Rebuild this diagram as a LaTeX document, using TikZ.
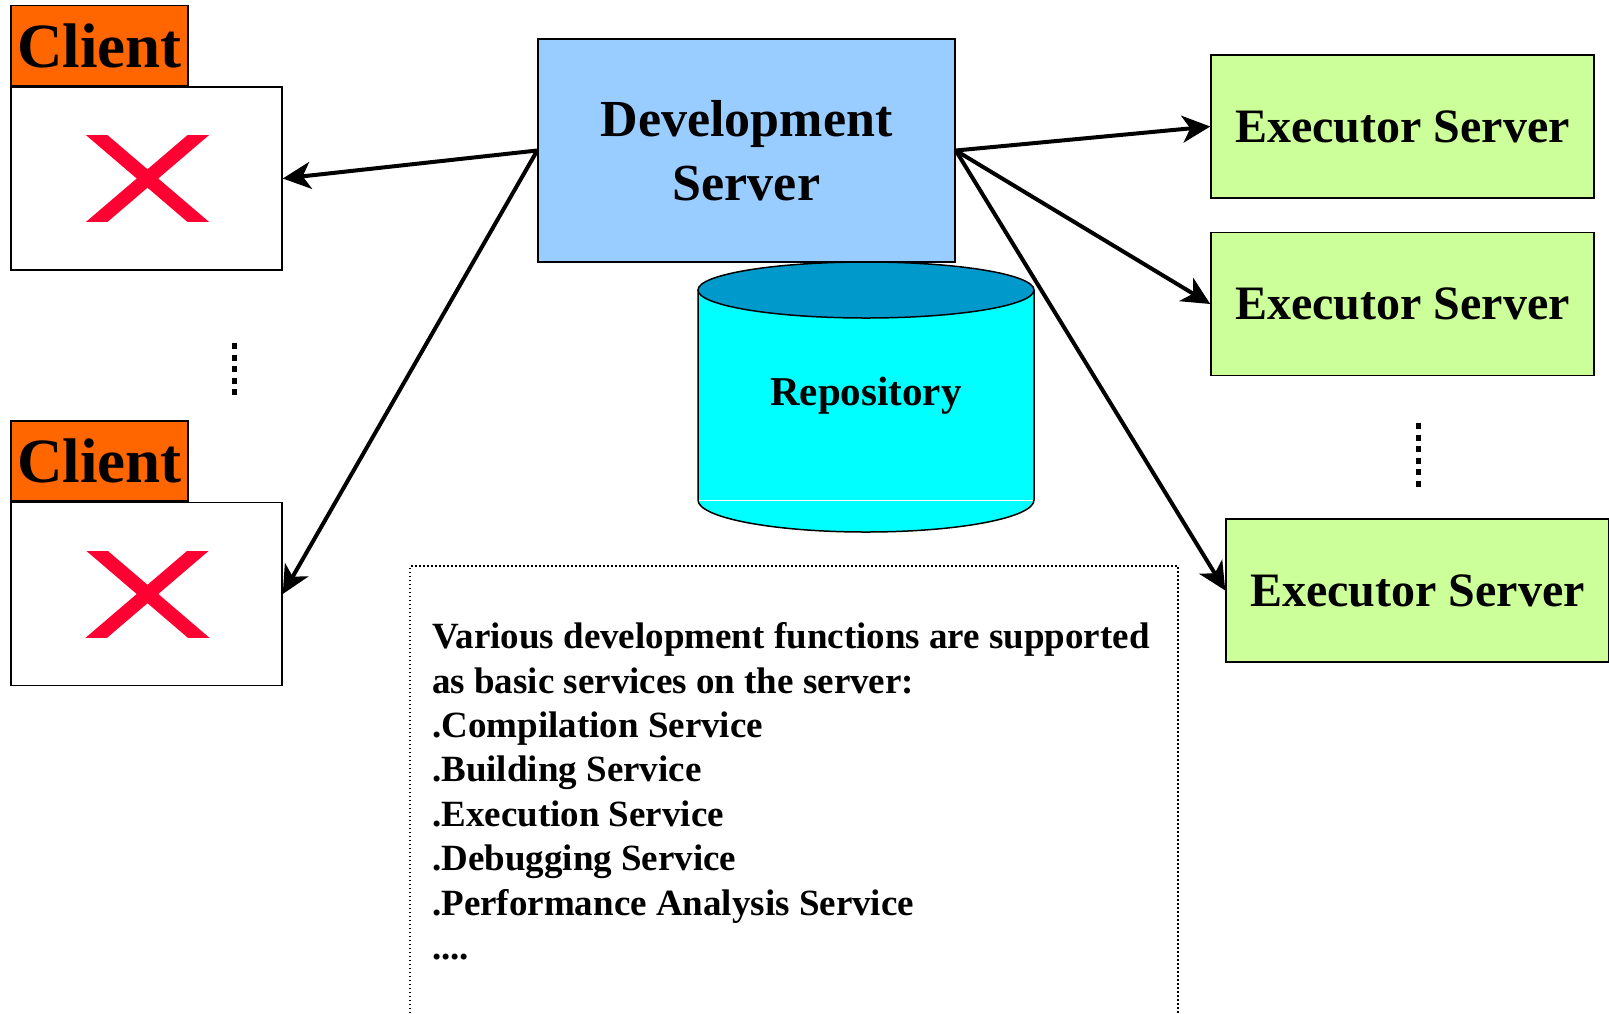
\documentclass[tikz,border=0pt]{standalone}
\usepackage{fontspec}
\setmainfont{Liberation Serif}
\usepackage{xcolor}
\usepackage{tikz}
\usetikzlibrary{arrows.meta, positioning, calc}

\definecolor{clientorange}{HTML}{FF6600}
\definecolor{devblue}{HTML}{99CCFF}
\definecolor{execgreen}{HTML}{CCFF99}
\definecolor{repobody}{HTML}{00FFFF}
\definecolor{repotop}{HTML}{0099CC}
\definecolor{crossred}{HTML}{FF0033}

\begin{document}
\begin{tikzpicture}[x=1pt, y=1pt,
            arr/.style={-{Stealth[length=28pt, width=27pt, inset=8pt]}, line width=4pt},
            clientbox/.style={draw, line width=1.5pt, fill=white, minimum width=271pt, minimum height=183pt},
            clientlabel/.style={draw, line width=1.5pt, fill=clientorange, minimum width=177pt, minimum height=80pt, inner sep=0pt, font=\bfseries\fontsize{63}{70}\selectfont},
            server/.style={draw, line width=1.5pt, fill=execgreen, minimum width=383pt, minimum height=143pt, font=\bfseries\fontsize{48}{56}\selectfont},
            cross/.style={line width=14pt, crossred},
            vdots/.style={line width=5pt, dash pattern=on 6pt off 5.5pt}]

            \useasboundingbox (0,0) rectangle (1609,-1013);

            % clients
            \node[clientbox] (client_1) at (146.5,-178.5) {};
            \node[clientlabel, above right=0pt and 0pt of client_1.north west] (label_1) {Client};
            \node[clientbox] (client_2) at (146.5,-594) {};
            \node[clientlabel, above right=0pt and 0pt of client_2.north west] (label_2) {Client};
            \foreach \c in {client_1, client_2} {
                \begin{scope}
                    \clip ($(\c)+(-62.5,-43)$) rectangle ($(\c)+(64.5,43)$);
                    \draw[cross] ($(\c)+(-75,-65)$) -- ($(\c)+(77,65)$);
                    \draw[cross] ($(\c)+(-75,65)$) -- ($(\c)+(77,-65)$);
                \end{scope}
            }
            \draw[vdots] (234,-343) -- (234,-395);

            % servers
            \node[draw, line width=1.5pt, fill=devblue, minimum width=417pt, minimum height=223pt, align=center,
                  font=\bfseries\fontsize{52}{64}\selectfont] (dev) at (746.5,-150.5) {Development\\Server};
            \node[server] (exec_1) at (1402.5,-126.5) {Executor Server};
            \node[server, below=33pt of exec_1] (exec_2) {Executor Server};
            \node[server] (exec_3) at (1417.5,-590.5) {Executor Server};
            \draw[vdots] (1418,-423) -- (1418,-487);

            % repository
            \fill[repobody] (698,-290) -- (698,-500) arc[start angle=180, end angle=360, x radius=168, y radius=32] -- (1034,-290) -- cycle;
            \draw[line width=1.5pt] (698,-290) -- (698,-500) arc[start angle=180, end angle=360, x radius=168, y radius=32] -- (1034,-290);
            \draw[white, line width=1pt] (699,-500) -- (1033,-500);
            \filldraw[fill=repotop, line width=1.5pt] (866,-290) ellipse[x radius=168, y radius=28];
            \node[font=\bfseries\fontsize{41}{48}\selectfont] (repo) at (866,-396) {Repository};

            % services
            \draw[line width=1.5pt, dash pattern=on 1.5pt off 2.5pt] (410,-1013) -- (410,-566) -- (1178,-566) -- (1178,-1013);
            \node[anchor=north west, align=left, inner sep=0pt, font=\bfseries\fontsize{37}{44.4}\selectfont] (services) at (432,-622.5)
                {Various development functions are supported\\as basic services on the server:\\.Compilation Service\\.Building Service\\.Execution Service\\.Debugging Service\\.Performance Analysis Service\\....};

            \draw[arr] (dev.west) -- (client_1.east);
            \draw[arr] (dev.west) -- (client_2.east);
            \draw[arr] (dev.east) -- (exec_1.west);
            \draw[arr] (dev.east) -- (exec_2.west);
            \draw[arr] (dev.east) -- (exec_3.west);
        \end{tikzpicture}
\end{document}
